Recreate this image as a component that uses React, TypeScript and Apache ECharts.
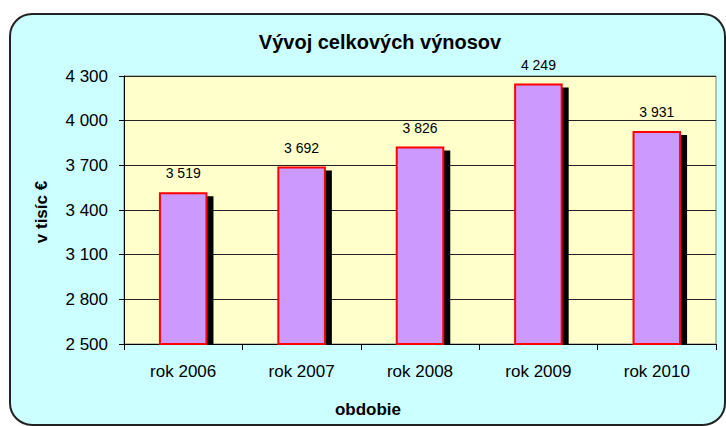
import React, { useEffect, useRef } from "react";
import * as echarts from "echarts";

const categories = ["rok 2006", "rok 2007", "rok 2008", "rok 2009", "rok 2010"];
const values = [3519, 3692, 3826, 4249, 3931];
const yMin = 2500;
const yMax = 4300;
const yStep = 300;
const titleText = "Vývoj celkových výnosov";
const yAxisName = "v tisíc €";
const xAxisName = "obdobie";

const FONT = "Arial, 'Liberation Sans', sans-serif";
const BAR_RATIO = 0.41;

const fmt = (v: number) => String(v).replace(/\B(?=(\d{3})+(?!\d))/g, " ");

export default function App() {
  const ref = useRef<HTMLDivElement>(null);
  useEffect(() => {
    document.body.style.margin = "0";
    const chart = echarts.init(ref.current!, null, { renderer: "svg" });
    chart.setOption({
      animation: false,
      backgroundColor: "#ffffff",
      textStyle: { fontFamily: FONT },
      graphic: [
        {
          type: "rect",
          z: -10,
          shape: { x: 10, y: 14, width: 715, height: 411, r: 22 },
          style: { fill: "#CCFFFF", stroke: "#222222", lineWidth: 2 },
        },
        {
          type: "text",
          x: 380,
          y: 42,
          style: {
            text: titleText,
            fontFamily: FONT,
            fontSize: 20,
            fontWeight: "bold",
            fill: "#000",
            textAlign: "center",
            textVerticalAlign: "middle",
          },
        },
        {
          type: "text",
          x: 41,
          y: 212,
          rotation: Math.PI / 2,
          style: {
            text: yAxisName,
            fontFamily: FONT,
            fontSize: 17,
            fontWeight: "bold",
            fill: "#000",
            textAlign: "center",
            textVerticalAlign: "middle",
          },
        },
        {
          type: "text",
          x: 368,
          y: 409,
          style: {
            text: xAxisName,
            fontFamily: FONT,
            fontSize: 17,
            fontWeight: "bold",
            fill: "#000",
            textAlign: "center",
            textVerticalAlign: "middle",
          },
        },
      ],
      grid: {
        left: 124,
        right: 10,
        top: 76,
        bottom: 82,
        show: true,
        backgroundColor: "#FFFFCC",
        borderColor: "#808080",
        borderWidth: 1,
      },
      xAxis: {
        type: "category",
        data: categories,
        boundaryGap: true,
        axisLine: { show: true, lineStyle: { color: "#000", width: 1 } },
        axisTick: { show: true, length: 6, interval: 0, lineStyle: { color: "#000" } },
        axisLabel: { color: "#000", fontSize: 17, fontFamily: FONT, margin: 19, interval: 0 },
        splitLine: { show: false },
      },
      yAxis: {
        type: "value",
        min: yMin,
        max: yMax,
        interval: yStep,
        axisLine: { show: true, lineStyle: { color: "#000", width: 1 } },
        axisTick: { show: true, length: 5, lineStyle: { color: "#000" } },
        axisLabel: {
          color: "#000",
          fontSize: 17,
          fontFamily: FONT,
          margin: 16,
          formatter: (v: number) => fmt(v),
        },
        splitLine: { show: true, lineStyle: { color: "#222", width: 1 } },
      },
      series: [
        {
          type: "custom",
          z: 1,
          data: values.map((v, i) => [i, v]),
          encode: { x: 0, y: 1 },
          renderItem: (params: any, api: any) => {
            const idx = api.value(0);
            const v = api.value(1);
            const top = api.coord([idx, v]);
            const base = api.coord([idx, yMin]);
            const w = api.size([1, 0])[0] * BAR_RATIO;
            return {
              type: "rect",
              shape: {
                x: top[0] - w / 2 + 6,
                y: top[1] + 4,
                width: w,
                height: base[1] - top[1] - 4,
              },
              style: { fill: "#000000" },
            };
          },
        },
        {
          type: "bar",
          z: 2,
          data: values,
          barWidth: BAR_RATIO * 100 + "%",
          itemStyle: { color: "#CC99FF", borderColor: "#FF0000", borderWidth: 2 },
          label: {
            show: true,
            position: "top",
            distance: 12,
            color: "#000",
            fontSize: 14,
            fontFamily: FONT,
            formatter: (p: any) => fmt(p.value),
          },
        },
      ],
    });
    return () => chart.dispose();
  }, []);
  return <div ref={ref} style={{ width: 726, height: 426 }} />;
}
